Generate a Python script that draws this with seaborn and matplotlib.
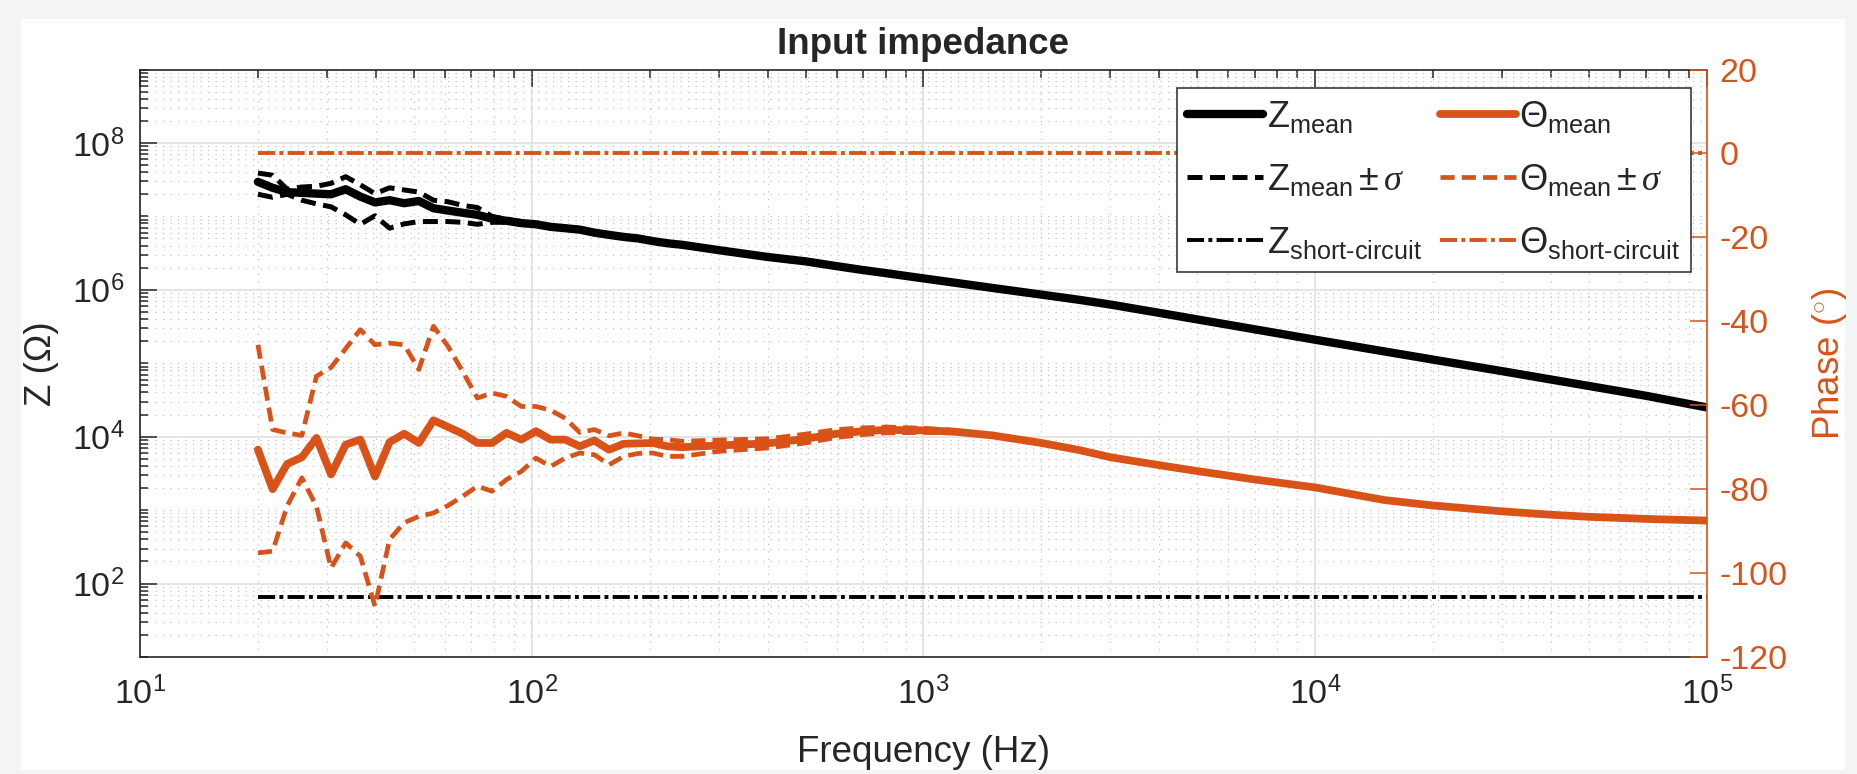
import numpy as np
import matplotlib.pyplot as plt
import matplotlib.ticker as mticker
from matplotlib.patches import Rectangle
import seaborn as sns

# Frecuencias de medida (Hz): barrido fino hasta ~250 Hz, luego puntos sueltos
freq = [20.0, 21.8, 23.75, 25.89, 28.21, 30.74, 33.50, 36.51, 39.79, 43.36,
        47.26, 51.50, 56.12, 61.16, 66.66, 72.64, 79.17, 86.27, 94.02, 102.5,
        111.7, 121.7, 132.6, 144.5, 157.5, 171.7, 187.1, 203.9, 222.2, 242.1,
        300, 400, 500, 600, 700, 800, 1000, 1200, 1500, 2000,
        2500, 3000, 4000, 5000, 7000, 10000, 15000, 20000, 30000, 40000,
        50000, 70000, 100000]

# Modulo de la impedancia (Ohm)
z_mean = [2.95e7, 2.45e7, 2.14e7, 2.09e7, 2.04e7, 2.0e7, 2.34e7, 1.86e7, 1.55e7, 1.66e7,
          1.51e7, 1.62e7, 1.29e7, 1.20e7, 1.12e7, 1.05e7, 9.3e6, 8.7e6, 8.1e6, 7.8e6,
          7.2e6, 6.9e6, 6.6e6, 6.0e6, 5.6e6, 5.25e6, 5.0e6, 4.6e6, 4.3e6, 4.1e6,
          3.47e6, 2.8e6, 2.44e6, 2.1e6, 1.86e6, 1.69e6, 1.43e6, 1.25e6, 1.06e6, 8.6e5,
          7.3e5, 6.3e5, 4.85e5, 3.95e5, 2.9e5, 2.09e5, 1.45e5, 1.12e5, 7.8e4, 6.0e4,
          4.9e4, 3.6e4, 2.5e4]
# Media +/- sigma (solo el tramo donde se separa de la media)
z_upper = [3.89e7, 3.63e7, 2.34e7, 2.51e7, 2.57e7, 2.82e7, 3.47e7, 2.69e7, 2.04e7, 2.45e7,
           2.29e7, 2.14e7, 1.66e7, 1.58e7, 1.41e7, 1.32e7, 1.0e7, 9.1e6, 8.5e6, 7.9e6,
           7.4e6, 7.1e6, 6.8e6, 6.2e6, 5.75e6, 5.4e6, 5.1e6, 4.7e6, 4.4e6, 4.2e6]
z_lower = [2.0e7, 1.82e7, 2.0e7, 1.66e7, 1.48e7, 1.35e7, 1.05e7, 7.8e6, 1.02e7, 6.9e6,
           7.9e6, 8.5e6, 8.5e6, 8.5e6, 8.3e6, 7.8e6, 8.3e6, 8.3e6, 7.8e6, 7.6e6,
           7.1e6, 6.8e6, 6.5e6, 5.9e6, 5.5e6, 5.1e6, 4.9e6, 4.5e6, 4.2e6, 4.0e6]
z_short = 66

# Fase (grados)
phase_mean = [-70.6, -80.0, -74.0, -72.4, -67.8, -76.5, -69.4, -68.2, -77.0, -68.8,
              -66.8, -69.0, -63.6, -65.2, -66.8, -69.0, -69.0, -66.6, -68.2, -66.2,
              -68.2, -68.2, -69.8, -68.4, -70.6, -69.2, -69.1, -69.0, -69.8, -70.0,
              -69.6, -69.1, -68.0, -66.8, -66.2, -65.9, -66.0, -66.3, -67.2, -69.0,
              -70.7, -72.4, -74.3, -75.7, -77.7, -79.6, -82.6, -83.9, -85.3, -86.1,
              -86.6, -87.1, -87.5]
phase_upper = [-45.6, -65.8, -66.6, -67.2, -53.1, -51.0, -46.5, -42.0, -45.6, -45.2,
               -45.6, -51.5, -41.2, -46.0, -52.0, -58.3, -57.1, -57.9, -60.3, -60.3,
               -61.2, -63.1, -66.5, -65.8, -67.3, -66.6, -67.3, -68.1, -68.2, -68.6,
               -68.3, -68.0, -66.9, -65.8, -65.4, -65.2, -65.5, -66.0]
phase_lower = [-95.2, -94.8, -84.0, -77.3, -84.1, -98.8, -92.8, -96.0, -107.9, -92.0,
               -88.0, -86.5, -85.7, -83.9, -81.7, -79.3, -80.5, -77.7, -75.8, -72.6,
               -74.6, -72.6, -71.4, -71.8, -74.2, -72.2, -71.5, -71.4, -72.2, -72.2,
               -71.0, -70.2, -69.0, -67.7, -67.0, -66.6, -66.5, -66.6]
phase_short = 0

z_ticks = [1e2, 1e4, 1e6, 1e8]
phase_ticks = [-120, -100, -80, -60, -40, -20, 0, 20]

ORANGE = '#D95319'
DARK = '#262626'
DASH = (3.0, 1.5)
DASHDOT = (4.4, 1.1, 1.0, 1.1)

sns.set_style('white')
plt.rcParams['font.family'] = ['Liberation Sans', 'DejaVu Sans']
plt.rcParams['mathtext.fontset'] = 'custom'
plt.rcParams['mathtext.rm'] = 'Liberation Sans'
plt.rcParams['mathtext.it'] = 'Liberation Serif:italic'
plt.rcParams['mathtext.bf'] = 'Liberation Sans:bold'
plt.rcParams['axes.unicode_minus'] = False

fig = plt.figure(figsize=(18.57, 7.74), dpi=100, facecolor='#f3f4f6')
# panel blanco de la figura (captura con borde gris)
fig.add_artist(Rectangle((0.0113, 0.0052), 0.9822, 0.9703, transform=fig.transFigure,
                         facecolor='white', edgecolor='none', zorder=-1))

ax = fig.add_axes([0.0754, 0.1512, 0.8438, 0.7590])
ax.set_xscale('log')
ax.set_yscale('log')
ax2 = ax.twinx()

# --- impedancia (eje izquierdo)
sns.lineplot(x=freq, y=z_mean, ax=ax, color='black', lw=6.0, estimator=None, sort=False)
h_zmean = ax.lines[-1]
sns.lineplot(x=freq[:len(z_upper)], y=z_upper, ax=ax, color='black', lw=3.6,
             estimator=None, sort=False)
h_zpm = ax.lines[-1]
h_zpm.set_dashes(DASH)
sns.lineplot(x=freq[:len(z_lower)], y=z_lower, ax=ax, color='black', lw=3.6,
             estimator=None, sort=False)
ax.lines[-1].set_dashes(DASH)
sns.lineplot(x=[freq[0], freq[-1]], y=[z_short, z_short], ax=ax, color='black', lw=2.8,
             estimator=None, sort=False)
h_zsc = ax.lines[-1]
h_zsc.set_dashes(DASHDOT)

# --- fase (eje derecho)
sns.lineplot(x=[freq[0], freq[-1]], y=[phase_short, phase_short], ax=ax2, color=ORANGE,
             lw=2.8, estimator=None, sort=False)
h_tsc = ax2.lines[-1]
h_tsc.set_dashes(DASHDOT)
sns.lineplot(x=freq[:len(phase_upper)], y=phase_upper, ax=ax2, color=ORANGE, lw=3.4,
             estimator=None, sort=False)
h_tpm = ax2.lines[-1]
h_tpm.set_dashes(DASH)
sns.lineplot(x=freq[:len(phase_lower)], y=phase_lower, ax=ax2, color=ORANGE, lw=3.4,
             estimator=None, sort=False)
ax2.lines[-1].set_dashes(DASH)
sns.lineplot(x=freq, y=phase_mean, ax=ax2, color=ORANGE, lw=5.6, estimator=None, sort=False)
h_tmean = ax2.lines[-1]

# ejes
ax.set_xlim(10, 1e5)
ax.set_ylim(10, 1e9)
ax2.set_ylim(-120, 20)
ax2.set_yticks(phase_ticks)

pow_fmt = mticker.FuncFormatter(lambda v, pos: r'$\mathregular{10^{%d}}$' % round(np.log10(v)))
ax.xaxis.set_major_locator(mticker.LogLocator(base=10, numticks=10))
ax.xaxis.set_minor_locator(mticker.LogLocator(base=10, subs=np.arange(2, 10), numticks=100))
ax.xaxis.set_major_formatter(pow_fmt)
ax.xaxis.set_minor_formatter(mticker.NullFormatter())
ax.yaxis.set_major_locator(mticker.FixedLocator(z_ticks))
ax.yaxis.set_minor_locator(mticker.LogLocator(base=10, subs=np.arange(1, 10), numticks=100))
ax.yaxis.set_major_formatter(pow_fmt)
ax.yaxis.set_minor_formatter(mticker.NullFormatter())

ax.tick_params(which='both', direction='in', top=True, right=False, colors=DARK,
               labelsize=24.5, width=1.1)
ax.tick_params(axis='x', pad=14)
ax.tick_params(axis='y', pad=11)
ax.tick_params(which='major', length=12)
ax.tick_params(which='minor', length=6)
ax2.tick_params(axis='y', direction='in', length=12, width=1.1, colors=ORANGE,
                labelsize=24.5, pad=9)

for side in ['left', 'bottom', 'top']:
    ax.spines[side].set_color(DARK)
    ax.spines[side].set_linewidth(1.2)
ax.spines['right'].set_visible(False)
for side in ['left', 'bottom', 'top']:
    ax2.spines[side].set_visible(False)
ax2.spines['right'].set_color(ORANGE)
ax2.spines['right'].set_linewidth(1.2)

ax.grid(True, which='major', color='#e0e0e0', lw=1.2, ls='-')
ax.grid(True, which='minor', color='#c4c4c4', lw=0.9, ls=(0, (1, 5)))
ax.set_axisbelow(True)
ax2.grid(False)

ax.set_xlabel('Frequency (Hz)', fontsize=26.5, color=DARK)
ax.xaxis.set_label_coords(0.5, -0.133)
ax.set_ylabel('Z (Ω)', fontsize=26.5, color=DARK)
ax.yaxis.set_label_coords(-0.052, 0.5)
ax2.set_ylabel(r'Phase ($^{\circ}$)', fontsize=26.5, color=ORANGE)
ax2.yaxis.set_label_coords(1.066, 0.5)
ax.set_title('Input impedance', fontsize=26.5, fontweight='bold', pad=11)

handles = [h_zmean, h_zpm, h_zsc, h_tmean, h_tpm, h_tsc]
labels = [r'$\mathregular{Z_{mean}}$',
          r'$\mathregular{Z_{mean}}\pm\sigma$',
          r'$\mathregular{Z_{short‐circuit}}$',
          r'$\mathregular{\Theta_{mean}}$',
          r'$\mathregular{\Theta_{mean}}\pm\sigma$',
          r'$\mathregular{\Theta_{short‐circuit}}$']
leg = ax2.legend(handles, labels, ncol=2, loc='upper right', bbox_to_anchor=(0.9898, 0.9685),
                 borderaxespad=0, fontsize=26, frameon=True, fancybox=False,
                 edgecolor='#3a3a3a', framealpha=1, handlelength=2.1, handletextpad=0.1,
                 columnspacing=0.5, labelspacing=0.75, borderpad=0.3)
leg.get_frame().set_linewidth(1.2)

fig.savefig('out.png', dpi=100, facecolor=fig.get_facecolor())
